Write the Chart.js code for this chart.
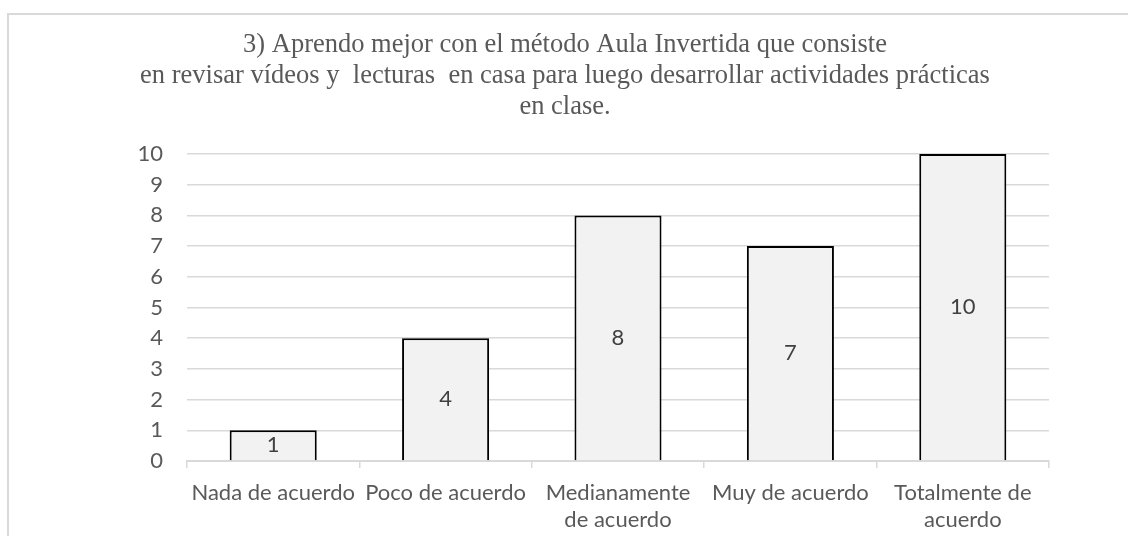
<!DOCTYPE html>
<html>
<head>
<meta charset="utf-8">
<script src="https://cdn.jsdelivr.net/npm/chart.js@4.4.1/dist/chart.umd.min.js"></script>
<style>
  html, body { margin: 0; padding: 0; background: #ffffff; overflow: hidden; }
  #frame { position: absolute; left: 7px; top: 13px; width: 1300px; height: 700px;
           border-left: 2px solid #d9d9d9; border-top: 2px solid #d9d9d9; }
  #c { position: absolute; left: 0; top: 0; }
</style>
</head>
<body>
<div id="frame"></div>
<canvas id="c" width="1128" height="536"></canvas>
<script>
const titleLines = [
  "3) Aprendo mejor con el método Aula Invertida que consiste",
  "en revisar vídeos y  lecturas  en casa para luego desarrollar actividades prácticas",
  "en clase."
];
const categories = [
  "Nada de acuerdo",
  "Poco de acuerdo",
  ["Medianamente", "de acuerdo"],
  "Muy de acuerdo",
  ["Totalmente de", "acuerdo"]
];
const values = [1, 4, 8, 7, 10];
const yTicks = [0, 1, 2, 3, 4, 5, 6, 7, 8, 9, 10];

const tickFont = { family: "Lato, 'Open Sans', sans-serif", size: 22, lineHeight: 1.23 };
const textColor = "#595959";

const titlePlugin = {
  id: "serifTitle",
  afterDraw(chart) {
    const ctx = chart.ctx;
    ctx.save();
    ctx.font = "26.5px 'Liberation Serif', 'Times New Roman', serif";
    ctx.fillStyle = textColor;
    ctx.textAlign = "center";
    ctx.textBaseline = "middle";
    titleLines.forEach((t, i) => ctx.fillText(t, chart.width / 2 + 1, 45 + i * 31));
    ctx.restore();
  }
};

const labelPlugin = {
  id: "barValues",
  afterDatasetsDraw(chart) {
    const ctx = chart.ctx;
    const meta = chart.getDatasetMeta(0);
    ctx.save();
    ctx.font = "22px Lato, 'Open Sans', sans-serif";
    ctx.fillStyle = "#404040";
    ctx.textAlign = "center";
    ctx.textBaseline = "middle";
    meta.data.forEach((bar, i) => {
      const v = chart.data.datasets[0].data[i];
      ctx.fillText(String(v), bar.x, (bar.y + bar.base) / 2);
    });
    ctx.restore();
  }
};

new Chart(document.getElementById("c"), {
  type: "bar",
  data: {
    labels: categories,
    datasets: [{
      data: values,
      backgroundColor: "#f2f2f2",
      borderColor: "#000000",
      borderWidth: 2,
      barPercentage: 0.505,
      categoryPercentage: 1.0
    }]
  },
  options: {
    responsive: false,
    devicePixelRatio: 1,
    animation: false,
    layout: { padding: { top: 154, right: 79, left: 0, bottom: 0 } },
    plugins: { legend: { display: false }, title: { display: false }, tooltip: { enabled: false } },
    scales: {
      x: {
        afterFit(scale) { scale.height = 75; },
        grid: { offset: true, drawOnChartArea: false, drawTicks: true, tickLength: 7, color: "#d9d9d9", lineWidth: 1.5 },
        border: { display: true, color: "#d9d9d9", width: 2 },
        ticks: { color: textColor, font: tickFont, padding: 11, maxRotation: 0, autoSkip: false }
      },
      y: {
        min: 0,
        max: 10,
        afterFit(scale) { scale.width = 187; },
        afterBuildTicks(scale) { scale.ticks = yTicks.map(v => ({ value: v })); },
        grid: { drawTicks: false, color: "#d9d9d9", lineWidth: 1.5 },
        border: { display: false },
        ticks: { color: textColor, font: tickFont, padding: 24 }
      }
    }
  },
  plugins: [titlePlugin, labelPlugin]
});
</script>
</body>
</html>
